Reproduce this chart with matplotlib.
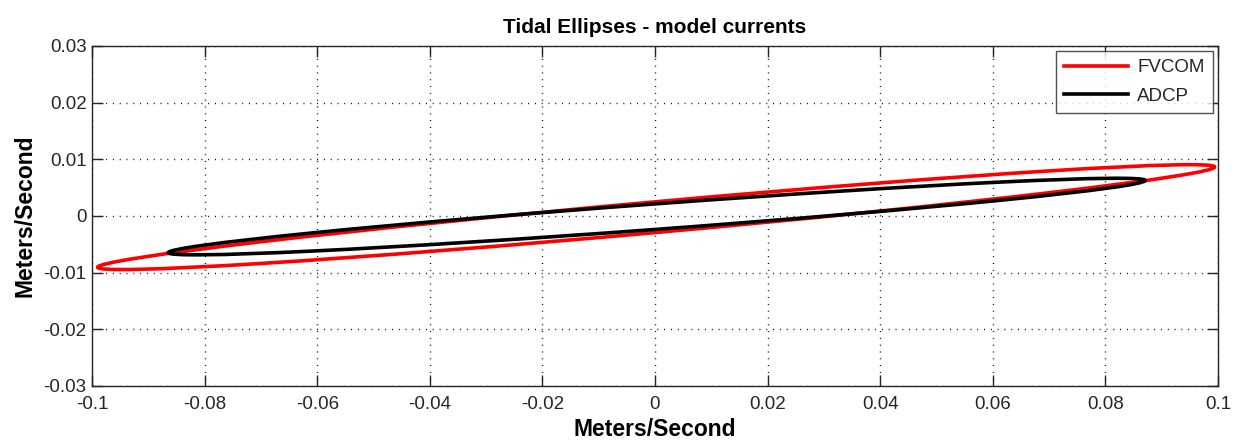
"""Tidal ellipses: FVCOM model currents against ADCP observations."""

import matplotlib
matplotlib.use("Agg")
import matplotlib.pyplot as plt
from matplotlib.patches import Ellipse

plt.rcParams["font.family"] = ["Liberation Sans", "DejaVu Sans"]

# Ellipse parameters (m/s): centre, semi-major, semi-minor, inclination (deg)
SOURCES = ["FVCOM", "ADCP"]
CENTER_U = [0.0002, 0.0003]
CENTER_V = [-0.0002, -0.0001]
SEMI_MAJOR = [0.0996, 0.0870]
SEMI_MINOR = [0.0027, 0.00225]
INCLINATION = [5.1, 4.2]
COLORS = ["#ff0000", "#000000"]

X_TICKS = [-0.1, -0.08, -0.06, -0.04, -0.02, 0, 0.02, 0.04, 0.06, 0.08, 0.1]
Y_TICKS = [-0.03, -0.02, -0.01, 0, 0.01, 0.02, 0.03]


def tick_label(v):
    return "0" if v == 0 else f"{v:g}"


fig = plt.figure(figsize=(12.39, 4.42), dpi=100)
ax = fig.add_axes([0.0743, 0.1267, 0.9087, 0.7693])

handles = []
for name, cu, cv, a, b, inc, col in zip(SOURCES, CENTER_U, CENTER_V, SEMI_MAJOR,
                                         SEMI_MINOR, INCLINATION, COLORS):
    ell = Ellipse((cu, cv), width=2 * a, height=2 * b, angle=inc,
                  fill=False, edgecolor=col, linewidth=2.6, zorder=3)
    ax.add_patch(ell)
    line, = ax.plot([], [], color=col, linewidth=2.6, label=name)
    handles.append(line)

ax.set_xlim(-0.1, 0.1)
ax.set_ylim(-0.03, 0.03)
ax.set_xticks(X_TICKS)
ax.set_yticks(Y_TICKS)
ax.set_xticklabels([tick_label(v) for v in X_TICKS])
ax.set_yticklabels([tick_label(v) for v in Y_TICKS])

ax.grid(True, color="black", linestyle=(0, (0.7, 4.2)), linewidth=1.0)
ax.tick_params(direction="in", length=8, width=1.0, color="#262626",
               labelsize=13.5, labelcolor="#262626", top=True, right=True)
ax.tick_params(axis="x", pad=7)
ax.tick_params(axis="y", pad=4)
for sp in ax.spines.values():
    sp.set_color("#262626")
    sp.set_linewidth(1.0)

ax.set_title("Tidal Ellipses - model currents", fontsize=15, fontweight="bold",
             pad=9)
ax.set_xlabel("Meters/Second", fontsize=16.5, fontweight="bold", labelpad=4)
ax.set_ylabel("Meters/Second", fontsize=16.5, fontweight="bold", labelpad=5)

leg = ax.legend(handles=handles, loc="upper right", fontsize=13.5,
                frameon=True, fancybox=False, edgecolor="#262626",
                handlelength=3.4, handletextpad=0.5, borderaxespad=0.25,
                labelspacing=0.6, borderpad=0.45)
leg.get_frame().set_linewidth(1.0)
for txt in leg.get_texts():
    txt.set_color("#262626")

fig.savefig("out.png", dpi=100)
